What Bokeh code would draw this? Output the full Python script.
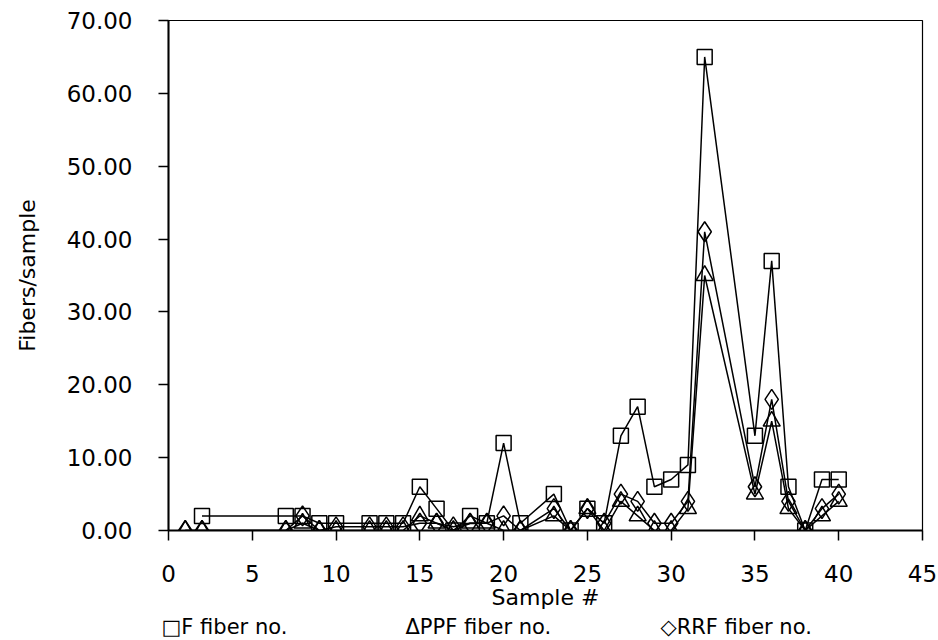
from bokeh.plotting import figure
from bokeh.models import Label, Range1d, FixedTicker, NumeralTickFormatter
from bokeh.embed import file_html
from bokeh.resources import INLINE

# ---- data ----
f_samples = [2, 7, 8, 9, 10, 12, 13, 14, 15, 16, 17, 18, 19, 20, 21, 23, 24, 25, 26,
             27, 28, 29, 30, 31, 32, 35, 36, 37, 38, 39, 40]
f_fiber = [2, 2, 2, 1, 1, 1, 1, 1, 6, 3, 0, 2, 1, 12, 1, 5, 0, 3, 1,
           13, 17, 6, 7, 9, 65, 13, 37, 6, 0, 7, 7]

samples = [1, 2, 7, 8, 9, 10, 12, 13, 14, 15, 16, 17, 18, 19, 20, 21, 23, 24, 25, 26,
           27, 28, 29, 30, 31, 32, 35, 36, 37, 38, 39, 40]
ppf_fiber = [0, 0, 0, 1, 0, 0, 0, 0, 0, 2, 1, 0, 1, 1, 0, 0, 2, 0, 3, 0,
             4, 2, 0, 0, 3, 35, 5, 15, 3, 0, 2, 4]
rrf_fiber = [0, 0, 0, 2, 0, 0.5, 0.5, 0.5, 0.5, 1, 1, 0.5, 1, 1, 2, 0, 3, 0, 3, 1,
             5, 4, 1, 1, 4, 41, 6, 18, 4, 0, 3, 5]

x_ticks = [0, 5, 10, 15, 20, 25, 30, 35, 40, 45]
y_ticks = [0, 10, 20, 30, 40, 50, 60, 70]

legend_labels = ["\u25a1F fiber no.", "\u0394PPF fiber no.", "\u25c7RRF fiber no."]

FONT = "DejaVu Sans"

p = figure(width=938, height=612, output_backend="svg", toolbar_location=None,
           x_range=Range1d(0, 45), y_range=Range1d(0, 70),
           min_border_left=168, min_border_right=16, min_border_top=20,
           min_border_bottom=79)

p.grid.visible = False
p.background_fill_color = "white"
p.border_fill_color = "white"
p.outline_line_color = "black"
p.outline_line_width = 1.2

# axes
p.xaxis.ticker = FixedTicker(ticks=x_ticks)
p.yaxis.ticker = FixedTicker(ticks=y_ticks)
p.yaxis.formatter = NumeralTickFormatter(format="0.00")
for ax in (p.xaxis, p.yaxis):
    ax.axis_line_color = "black"
    ax.axis_line_width = 2
    ax.major_tick_line_color = "black"
    ax.major_tick_line_width = 1.5
    ax.major_tick_out = 10
    ax.major_tick_in = 0
    ax.minor_tick_line_color = None
    ax.major_label_text_font = FONT
    ax.major_label_text_font_size = "23px"
    ax.major_label_text_color = "black"
    ax.axis_label_text_font = FONT
    ax.axis_label_text_font_size = "22px"
    ax.axis_label_text_font_style = "normal"
    ax.axis_label_text_color = "black"

p.xaxis.axis_label = "Sample #"
p.yaxis.axis_label = "Fibers/sample"
p.xaxis.major_label_standoff = 24
p.xaxis.axis_label_standoff = 0
p.yaxis.major_label_standoff = 26
p.yaxis.axis_label_standoff = 24

# series
lw = 1.5
p.line(f_samples, f_fiber, line_color="black", line_width=lw)
p.line(samples, ppf_fiber, line_color="black", line_width=lw)
p.line(samples, rrf_fiber, line_color="black", line_width=lw)

p.scatter(f_samples, f_fiber, marker="square", size=15,
          fill_color=None, line_color="black", line_width=lw)
p.scatter(samples, ppf_fiber, marker="triangle", size=17,
          fill_color=None, line_color="black", line_width=lw)
p.scatter(samples, rrf_fiber, marker="diamond", size=20,
          fill_color=None, line_color="black", line_width=lw)

# legend strip under the chart (separate root, so it is not frame-aligned)
lg = figure(width=938, height=28, output_backend="svg", toolbar_location=None,
            x_range=Range1d(0, 1), y_range=Range1d(0, 1),
            x_axis_location=None, y_axis_location=None,
            min_border_left=0, min_border_right=0, min_border_top=0,
            min_border_bottom=0)
lg.grid.visible = False
lg.outline_line_color = None
for txt, xpos in zip(legend_labels, [161, 405, 660]):
    lg.add_layout(Label(x=xpos, y=14, x_units="screen", y_units="screen",
                        text=txt, text_font=FONT, text_font_size="21px",
                        text_color="black", text_baseline="middle",
                        text_align="left"))

open("out.html", "w").write(file_html([p, lg], INLINE))
